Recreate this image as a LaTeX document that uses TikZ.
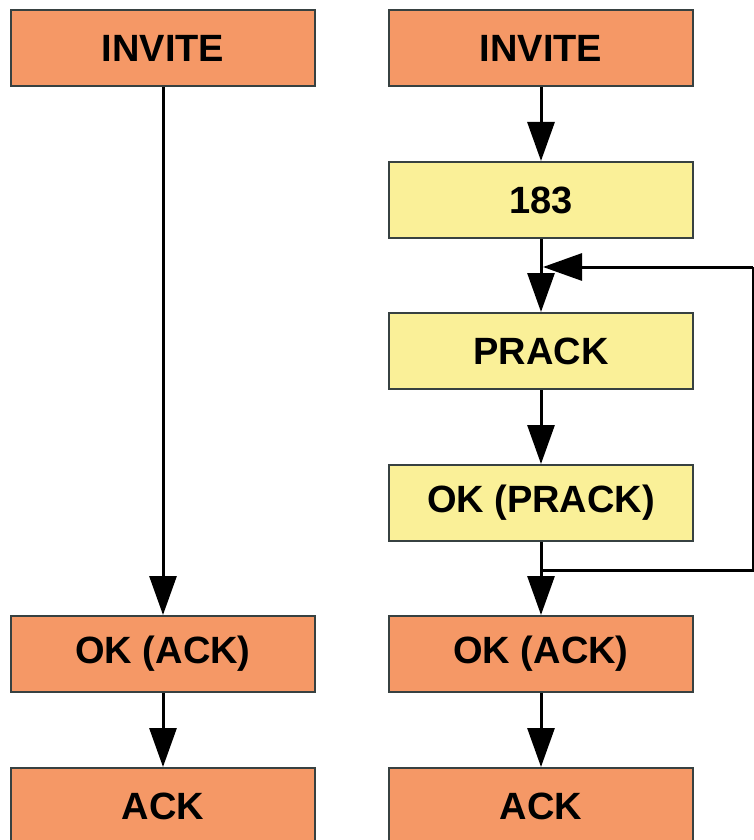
\documentclass[tikz,border=0pt]{standalone}
\usepackage{fontspec}
\setmainfont{Liberation Sans}
\usetikzlibrary{arrows.meta}
\definecolor{msgorange}{RGB}{245,152,102}
\definecolor{msgyellow}{RGB}{250,240,152}
\definecolor{edgegray}{RGB}{55,65,65}
\tikzset{
  msg/.style={draw=edgegray, line width=2pt, minimum width=304pt, minimum height=76pt,
    inner sep=0pt, font=\fontsize{38}{40}\selectfont\bfseries},
  final/.style={msg, fill=msgorange},
  prov/.style={msg, fill=msgyellow},
  flow/.style={line width=3pt, draw=black, -{Triangle[length=39pt,width=27pt]}},
  link/.style={line width=3pt, draw=black}
}
\begin{document}
\begin{tikzpicture}[x=1pt,y=-1pt]
\useasboundingbox (0,0) rectangle (754,840);
\clip (0,0) rectangle (754,840);
% plain three-way handshake
\node[final] (inv1) at (163,48) {INVITE};
\node[final] (ok1) at (163,654) {OK (ACK)};
\node[final] (ack1) at (163,806) {ACK};
% reliable provisional response exchange
\node[final] (inv2) at (541,48) {INVITE};
\node[prov] (r183) at (541,200) {183};
\node[prov] (prack) at (541,351) {PRACK};
\node[prov] (okpr) at (541,503) {OK (PRACK)};
\node[final] (ok2) at (541,654) {OK (ACK)};
\node[final] (ack2) at (541,806) {ACK};
\coordinate (loopin) at (543,267);
\coordinate (loopout) at (541,570);
\coordinate (edgetop) at (753,267);
\coordinate (edgebot) at (753,570);
% connectors
\draw[flow] (inv1) -- (ok1);
\draw[flow] (ok1) -- (ack1);
\draw[flow] (inv2) -- (r183);
\draw[flow] (r183) -- (prack);
\draw[flow] (prack) -- (okpr);
\draw[flow] (okpr) -- (ok2);
\draw[flow] (ok2) -- (ack2);
% repeat loop back to PRACK
\draw[link] (loopout) -- (edgebot) -- (edgetop);
\draw[flow] (edgetop) -- (loopin);
\end{tikzpicture}
\end{document}
